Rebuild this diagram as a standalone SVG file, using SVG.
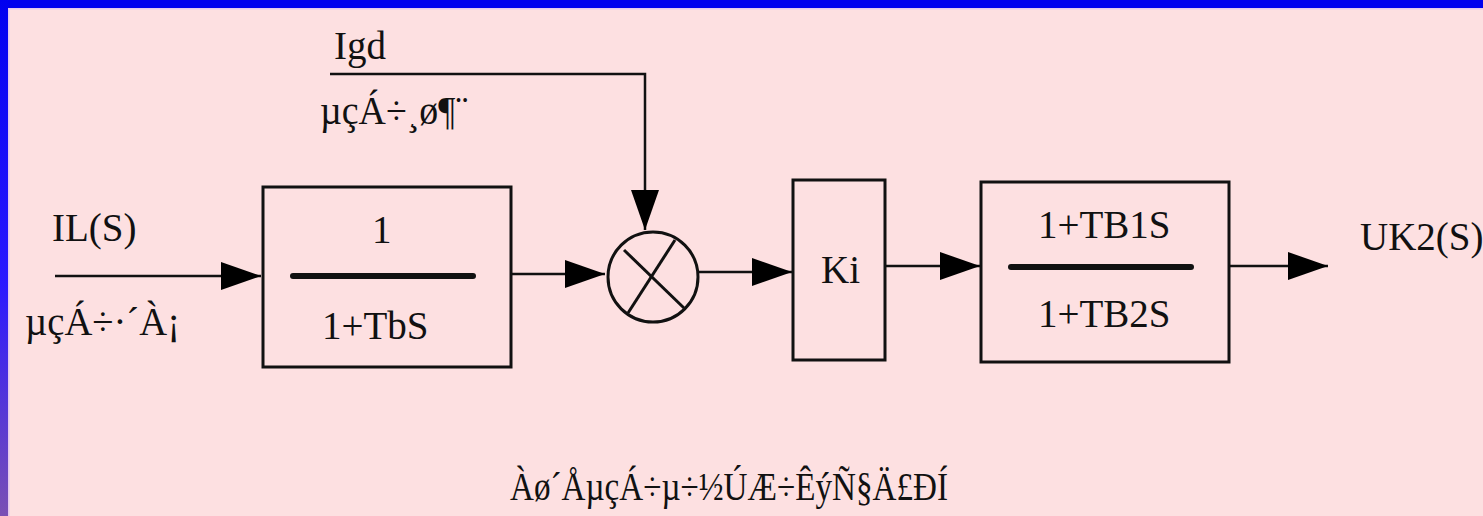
<svg xmlns="http://www.w3.org/2000/svg" width="1483" height="516" viewBox="0 0 1483 516">
<style>
text{font-family:'Liberation Serif','Times New Roman',serif;font-size:39px;fill:#111}
.box{fill:none;stroke:#111;stroke-width:3}
.frac{stroke:#111;stroke-width:6;stroke-linecap:round}
.c{fill:none;stroke:#111;stroke-width:2.5}
</style>
<defs>
<linearGradient id="lg" x1="0" y1="0" x2="0" y2="1">
<stop offset="0" stop-color="#0000f0"/>
<stop offset="0.55" stop-color="#2a18ff"/>
<stop offset="1" stop-color="#7a50b4"/>
</linearGradient>
<marker id="ah" markerUnits="userSpaceOnUse" markerWidth="40" markerHeight="28" refX="40" refY="14" orient="auto">
<path d="M0,0 L40,14 L0,28 z" fill="#000"/>
</marker>
</defs>
<rect x="0" y="0" width="1483" height="516" fill="#fde0e1"/>
<rect x="0" y="0" width="1483" height="8" fill="#0000ee"/>
<rect x="0" y="0" width="8" height="516" fill="url(#lg)"/>
<rect x="8" y="8" width="1475" height="1.5" fill="#e4c8ee"/>
<rect x="8" y="8" width="1.5" height="508" fill="#e4c8ee"/>

<g id="connectors">
<line class="c" x1="55" y1="276" x2="261" y2="276" marker-end="url(#ah)"/>
<line class="c" x1="511" y1="274" x2="605" y2="274" marker-end="url(#ah)"/>
<path class="c" d="M330,74 H645 V230" marker-end="url(#ah)"/>
<line class="c" x1="698" y1="272" x2="792" y2="272" marker-end="url(#ah)"/>
<line class="c" x1="885" y1="266" x2="980" y2="266" marker-end="url(#ah)"/>
<line class="c" x1="1229" y1="266" x2="1328" y2="266" marker-end="url(#ah)"/>
</g>

<g id="label-igd">
<text x="334" y="59">Igd</text>
<text x="320" y="124" textLength="148" lengthAdjust="spacingAndGlyphs">µçÁ÷¸ø¶¨</text>
</g>
<g id="label-il">
<text x="52" y="241">IL(S)</text>
<text x="25" y="335" textLength="155" lengthAdjust="spacingAndGlyphs">µçÁ÷·´À¡</text>
</g>
<g id="box1">
<rect class="box" x="263" y="187" width="248" height="180"/>
<text x="372" y="243">1</text>
<line class="frac" x1="293" y1="276" x2="473" y2="276"/>
<text x="322" y="339">1+TbS</text>
</g>
<g id="mult">
<circle class="box" cx="653" cy="277" r="45"/>
<line class="box" x1="624" y1="250" x2="684" y2="308"/>
<line class="box" x1="675" y1="240" x2="628" y2="313"/>
</g>
<g id="ki">
<rect class="box" x="793" y="180" width="92" height="180"/>
<text x="821" y="283">Ki</text>
</g>
<g id="box3">
<rect class="box" x="981" y="182" width="248" height="180"/>
<text x="1038" y="238">1+TB1S</text>
<line class="frac" x1="1011" y1="267" x2="1191" y2="267"/>
<text x="1038" y="327">1+TB2S</text>
</g>
<g id="label-out">
<text x="1360" y="250">UK2(S)</text>
</g>
<g id="caption">
<text x="510" y="500" textLength="438" lengthAdjust="spacingAndGlyphs">Àø´ÅµçÁ÷µ÷½ÚÆ÷ÊýÑ§Ä£ÐÍ</text>
</g>
</svg>
